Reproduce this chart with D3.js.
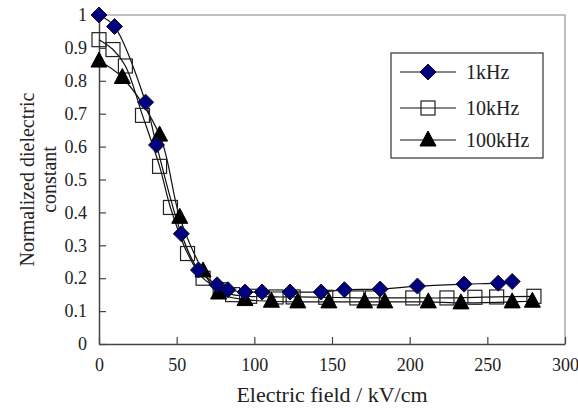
<!DOCTYPE html>
<html>
<head>
<meta charset="utf-8">
<script src="https://cdn.jsdelivr.net/npm/d3@7"></script>
<style>
  body { margin: 0; background: #fff; }
</style>
</head>
<body>
<div id="chart"></div>
<script>
// Data
var x1k = [0, 10, 30, 37, 53, 64, 76, 83, 94, 105, 123, 143, 158, 181, 205, 235, 257, 266];
var y1k = [1.0, 0.965, 0.735, 0.605, 0.335, 0.225, 0.18, 0.165, 0.158, 0.158, 0.158, 0.158, 0.165, 0.167, 0.176, 0.182, 0.185, 0.19];

var x10k = [0, 9, 17, 28, 39, 46, 57, 67, 78, 86, 97, 114, 125, 146, 166, 176, 202, 224, 242, 256, 280];
var y10k = [0.925, 0.895, 0.845, 0.695, 0.54, 0.415, 0.275, 0.2, 0.165, 0.15, 0.145, 0.143, 0.143, 0.142, 0.14, 0.14, 0.14, 0.14, 0.142, 0.143, 0.145];

var x100k = [0, 15, 39, 52, 67, 77, 94, 111, 128, 148, 171, 184, 212, 233, 266, 279];
var y100k = [0.86, 0.81, 0.635, 0.385, 0.222, 0.155, 0.135, 0.13, 0.128, 0.128, 0.128, 0.128, 0.128, 0.125, 0.128, 0.13];

var seriesNames = ["1kHz", "10kHz", "100kHz"];
var xTicks = [0, 50, 100, 150, 200, 250, 300];
var yTicks = [0, 0.1, 0.2, 0.3, 0.4, 0.5, 0.6, 0.7, 0.8, 0.9, 1];

var serif = "'Liberation Serif', 'Times New Roman', serif";

var svgWidth = 578;
var svgHeight = 409;
var margin = { top: 15, bottom: 65, right: 13, left: 99 };
var width = svgWidth - margin.left - margin.right;
var height = svgHeight - margin.top - margin.bottom;

var svg = d3.select("#chart")
  .append("svg")
  .attr("width", svgWidth)
  .attr("height", svgHeight)
  .attr("font-family", serif);

var chartGroup = svg.append("g")
  .attr("transform", `translate(${margin.left}, ${margin.top})`);

var xScale = d3.scaleLinear().domain([0, 300]).range([0, width]);
var yScale = d3.scaleLinear().domain([0, 1]).range([height, 0]);

// frame (top / right in grey)
chartGroup.append("path")
  .attr("d", `M0,0H${width}V${height}`)
  .attr("fill", "none")
  .attr("stroke", "#aaa")
  .attr("stroke-width", 1.5);

// axes, ticks pointing inward
var bottomAxis = d3.axisBottom(xScale).tickValues(xTicks).tickSizeInner(-7).tickSizeOuter(0).tickPadding(14);
var leftAxis = d3.axisLeft(yScale).tickValues(yTicks).tickSizeInner(-7).tickSizeOuter(0).tickPadding(12)
  .tickFormat(d3.format("~g"));

var gx = chartGroup.append("g")
  .attr("transform", `translate(0, ${height})`)
  .call(bottomAxis);
var gy = chartGroup.append("g").call(leftAxis);

[gx, gy].forEach(function(g) {
  g.attr("font-family", serif).attr("font-size", 18);
  g.select(".domain").attr("stroke", "#444").attr("stroke-width", 1.5);
  g.selectAll(".tick line").attr("stroke", "#444").attr("stroke-width", 1.2);
  g.selectAll(".tick text").attr("fill", "#222");
});

// series
var series = [
  { name: seriesNames[0], data: x1k.map((x, i) => [x, y1k[i]]), shape: "diamond" },
  { name: seriesNames[1], data: x10k.map((x, i) => [x, y10k[i]]), shape: "square" },
  { name: seriesNames[2], data: x100k.map((x, i) => [x, y100k[i]]), shape: "triangle" }
];

var line = d3.line()
  .x(d => xScale(d[0]))
  .y(d => yScale(d[1]))
  .curve(d3.curveCatmullRom.alpha(0.5));

series.forEach(function(s) {
  chartGroup.append("path")
    .datum(s.data)
    .attr("d", line)
    .attr("fill", "none")
    .attr("stroke", "#111")
    .attr("stroke-width", 1.2);
});

function drawMarker(g, shape, cx, cy) {
  if (shape === "diamond") {
    g.append("path")
      .attr("d", `M${cx},${cy - 8}L${cx + 8},${cy}L${cx},${cy + 8}L${cx - 8},${cy}Z`)
      .attr("fill", "#000080").attr("stroke", "#111").attr("stroke-width", 1);
  } else if (shape === "square") {
    g.append("rect")
      .attr("x", cx - 7).attr("y", cy - 7).attr("width", 14).attr("height", 14)
      .attr("fill", "none").attr("stroke", "#222").attr("stroke-width", 1.2);
  } else {
    g.append("path")
      .attr("d", `M${cx},${cy - 9}L${cx + 8},${cy + 6}L${cx - 8},${cy + 6}Z`)
      .attr("fill", "#000").attr("stroke", "#000").attr("stroke-width", 1);
  }
}

// draw markers: squares first, then triangles, then diamonds on top
[1, 2, 0].forEach(function(k) {
  var s = series[k];
  var g = chartGroup.append("g");
  s.data.forEach(function(d) {
    drawMarker(g, s.shape, xScale(d[0]), yScale(d[1]));
  });
});

// legend
var legend = svg.append("g").attr("transform", "translate(391, 53)");
legend.append("rect")
  .attr("width", 152).attr("height", 105)
  .attr("fill", "#fff").attr("stroke", "#333").attr("stroke-width", 1.2);
var rowY = [19, 55, 87];
series.forEach(function(s, i) {
  var row = legend.append("g");
  row.append("line")
    .attr("x1", 9).attr("x2", 65).attr("y1", rowY[i]).attr("y2", rowY[i])
    .attr("stroke", "#111").attr("stroke-width", 1.2);
  drawMarker(row, s.shape, 37, rowY[i]);
  row.append("text")
    .attr("x", 75).attr("y", rowY[i] + 7)
    .attr("font-size", 20)
    .attr("fill", "#222")
    .text(s.name);
});

// axis labels
var yLabel = svg.append("text")
  .attr("transform", `translate(34, ${margin.top + height / 2}) rotate(-90)`)
  .attr("text-anchor", "middle")
  .attr("font-size", 20)
  .attr("fill", "#222");
yLabel.append("tspan").attr("x", 0).attr("dy", 0).text("Normalized dielectric");
yLabel.append("tspan").attr("x", 0).attr("dy", 22).text("constant");

svg.append("text")
  .attr("x", margin.left + width / 2)
  .attr("y", 402)
  .attr("text-anchor", "middle")
  .attr("font-size", 22)
  .attr("fill", "#222")
  .text("Electric field / kV/cm");
</script>
</body>
</html>
